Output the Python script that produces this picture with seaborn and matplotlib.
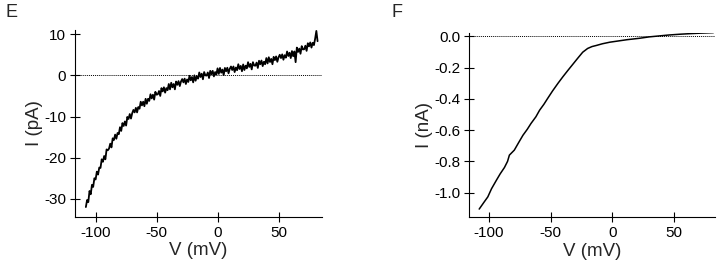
import numpy as np
import pandas as pd
import matplotlib
matplotlib.use("Agg")
import matplotlib.pyplot as plt
import matplotlib.ticker as mticker
import seaborn as sns

# Panel E: I-V ramp (pA), 1 mV steps from -108 to 82 mV
volt_e = np.arange(-108, 83, 1)
curr_e = [
    -32.0, -30.3, -30.8, -28.1, -28.9, -26.6, -27.1, -25.0, -25.3,
    -23.4, -24.1, -22.4, -22.5, -20.4, -21.0, -19.6, -20.4, -18.0, -18.2,
    -17.8, -16.6, -17.5, -15.3, -15.7, -14.4, -15.4, -14.0, -14.3, -12.6,
    -13.5, -11.6, -12.3, -11.2, -12.2, -10.1, -10.6, -9.4, -10.5, -9.2,
    -8.4, -9.0, -7.9, -9.0, -7.7, -8.1, -6.4, -7.3, -6.4, -7.5,
    -5.7, -6.9, -5.7, -6.2, -4.6, -5.6, -4.7, -5.9, -4.0, -4.7,
    -4.6, -3.8, -5.0, -3.1, -3.9, -2.9, -4.2, -3.1, -3.6, -2.1,
    -3.4, -1.8, -2.9, -2.1, -3.4, -1.5, -2.3, -1.4, -2.6, -1.5,
    -0.9, -1.7, -0.8, -2.1, -1.0, -1.6, -0.1, -1.2, -0.4, -1.7,
    0.0, -1.3, -0.2, -0.8, 0.7, -0.4, 0.4, -0.95, 0.8, 0.0,
    -0.05, 0.7, -0.65, 1.1, 0.25, 1.1, -0.25, 0.8, 0.2, 1.7,
    0.35, 1.8, 0.65, 1.4, 0.05, 1.8, 1.0, 1.85, 0.5, 1.6,
    2.15, 1.3, 2.15, 0.8, 1.9, 1.25, 2.7, 1.55, 2.3, 1.0,
    2.65, 1.3, 2.35, 1.7, 3.2, 2.05, 2.8, 1.45, 3.2, 2.4,
    2.35, 3.1, 1.8, 3.55, 2.7, 3.6, 2.25, 3.3, 2.7, 4.2,
    2.9, 4.4, 3.25, 4.0, 2.7, 4.5, 3.7, 4.6, 3.3, 4.4,
    5.0, 4.2, 5.1, 3.8, 4.9, 4.3, 5.8, 4.7, 5.5, 4.2,
    5.9, 4.65, 5.8, 3.2, 6.75, 5.7, 6.5, 5.25, 7.1, 6.3,
    6.35, 7.2, 5.95, 7.8, 7.05, 8.0, 6.75, 7.9, 7.35, 8.9, 10.8, 8.3,
]

# Panel F: whole-cell I-V (nA)
volt_f = [-108, -104, -101, -98, -94, -91, -87.5, -85, -83.5, -79.5, -76, -72.5,
          -69, -66, -62, -59, -55.5, -52.5, -48.5, -44, -40, -36, -32, -28,
          -24, -20, -16.5, -13, -8, -2, 5, 12, 22, 30, 38, 46, 55, 64, 72, 82]
curr_f = [-1.105, -1.06, -1.027, -0.975, -0.92, -0.88, -0.839, -0.80, -0.76, -0.728,
          -0.68, -0.633, -0.595, -0.558, -0.515, -0.473, -0.435, -0.398, -0.35, -0.30,
          -0.258, -0.218, -0.179, -0.14, -0.102, -0.078, -0.066, -0.059, -0.048, -0.038,
          -0.030, -0.022, -0.013, -0.004, 0.002, 0.008, 0.013, 0.017, 0.020, 0.023]

df_e = pd.DataFrame({"V": volt_e, "I": curr_e})
df_f = pd.DataFrame({"V": volt_f, "I": curr_f})

sns.set_style("ticks")
plt.rcParams["font.family"] = ["Liberation Sans", "DejaVu Sans"]
plt.rcParams["axes.unicode_minus"] = False

fig = plt.figure(figsize=(7.2, 2.76), dpi=100)
ax1 = fig.add_axes([0.104, 0.214, 0.343, 0.677])
ax2 = fig.add_axes([0.651, 0.213, 0.342, 0.667])

sns.lineplot(data=df_e, x="V", y="I", ax=ax1, color="black", lw=1.3,
             estimator=None, sort=False)
sns.lineplot(data=df_f, x="V", y="I", ax=ax2, color="black", lw=1.1,
             estimator=None, sort=False)

for ax in (ax1, ax2):
    ax.axhline(0, color="black", ls=(0, (1, 1)), lw=0.7)
    sns.despine(ax=ax)
    for s in ("left", "bottom"):
        ax.spines[s].set_linewidth(0.8)
        ax.spines[s].set_color("black")
    ax.tick_params(direction="inout", length=6.5, width=0.8, labelsize=11,
                   colors="black", pad=3)
    ax.set_xticks([-100, -50, 0, 50])
    ax.set_xlabel("V (mV)", fontsize=13.5, labelpad=2)

ax1.set_xlim(-117, 85.5)
ax1.set_ylim(-34.4, 11)
ax1.set_yticks([-30, -20, -10, 0, 10])
ax1.set_ylabel("I (pA)", fontsize=13.5, labelpad=1)

ax2.set_xlim(-116.5, 83.3)
ax2.set_ylim(-1.157, 0.02)
ax2.set_yticks([-1.0, -0.8, -0.6, -0.4, -0.2, 0.0])
ax2.yaxis.set_major_formatter(mticker.FormatStrFormatter("%.1f"))
ax2.set_ylabel("I (nA)", fontsize=13.5, labelpad=1)

fig.text(0.008, 0.955, "E", fontsize=13, va="center", ha="left")
fig.text(0.544, 0.955, "F", fontsize=13, va="center", ha="left")

fig.savefig("out.png", dpi=100)
